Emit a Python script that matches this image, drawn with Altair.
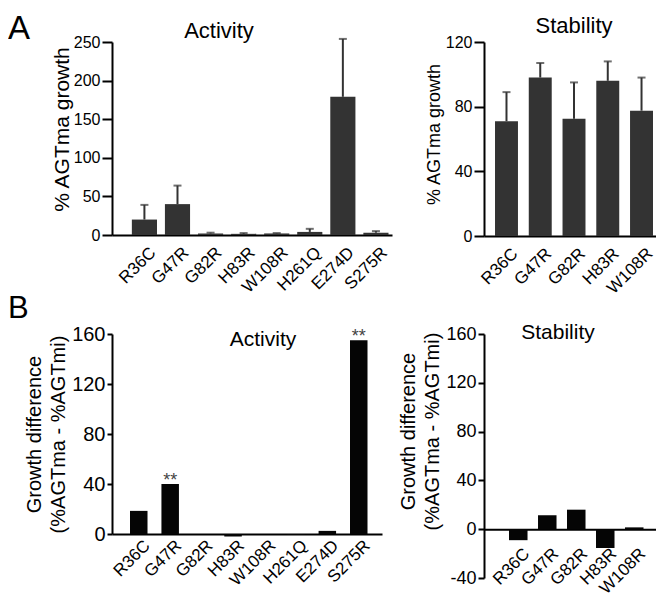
import altair as alt
import pandas as pd

FONT = "Liberation Sans"

# ---- data ----
a_act_mut = ["R36C", "G47R", "G82R", "H83R", "W108R", "H261Q", "E274D", "S275R"]
a_act_val = [20, 40, 2, 1.5, 2, 4, 179, 3]
a_act_err = [39, 64, 3, 2.5, 2.5, 8, 254, 5]

a_stab_mut = ["R36C", "G47R", "G82R", "H83R", "W108R"]
a_stab_val = [71, 98, 72.5, 96, 77.5]
a_stab_err = [89, 107, 95, 108, 98]

b_act_mut = ["R36C", "G47R", "G82R", "H83R", "W108R", "H261Q", "E274D", "S275R"]
b_act_val = [18.5, 40, 0, -2, 0, -0.5, 2.5, 155]
b_act_sig = ["", "**", "", "", "", "", "", "**"]

b_stab_mut = ["R36C", "G47R", "G82R", "H83R", "W108R"]
b_stab_val = [-9, 11.5, 16, -15.5, 1.5]

a_ticks_act = [0, 50, 100, 150, 200, 250]
a_ticks_stab = [0, 40, 80, 120]
b_ticks_act = [0, 40, 80, 120, 160]
b_ticks_stab = [-40, 0, 40, 80, 120, 160]

A_COLOR = "#333333"
B_COLOR = "#050505"


def text_layer(txt, x, y, size, align="center", baseline="alphabetic", color="black"):
    return alt.Chart(pd.DataFrame({"t": [txt]})).mark_text(
        font=FONT, fontSize=size, align=align, baseline=baseline, color=color
    ).encode(text="t:N", x=alt.value(x), y=alt.value(y))


def x_enc(order, pin, pout, align, label_pad, offset=0):
    return alt.X(
        "mut:N", sort=order, title=None,
        scale=alt.Scale(paddingInner=pin, paddingOuter=pout, align=align),
        axis=alt.Axis(labelAngle=-45, labelAlign="right", labelBaseline="top",
                      labelFontSize=17, ticks=False, labelPadding=label_pad,
                      labelOffset=3, domainWidth=2, offset=offset, labelOverlap=False),
    )


def y_enc(field, domain, values, label_size, tick_size, title, title_size, title_pad,
          title_y, expr=None):
    kw = dict(values=values, labelFontSize=label_size, tickSize=tick_size, tickWidth=2,
              domainWidth=2, labelPadding=2, title=title, titleFontSize=title_size,
              titleFontWeight="normal", titlePadding=title_pad, titleY=title_y,
              titleLineHeight=24, grid=False, labelOverlap=False)
    if expr:
        kw["labelExpr"] = expr
    return alt.Y(field, scale=alt.Scale(domain=domain, nice=False), axis=alt.Axis(**kw))


# ---- A: Activity ----
df_aa = pd.DataFrame({"mut": a_act_mut, "val": a_act_val, "err": a_act_err})
xa = x_enc(a_act_mut, 0.24, 0.353, 0.85, 9)
ya_args = ([0, 250], a_ticks_act, 16, 10, "% AGTma growth", 21, 1, 87)
base = alt.Chart(df_aa)
# transparent rule reserving a little head room above the panels
top_space = alt.Chart(pd.DataFrame({"t": ["A"]})).mark_rule(strokeOpacity=0).encode(
    x=alt.value(-104), x2=alt.value(-90), y=alt.value(-34))
a_act = alt.layer(
    base.mark_rule(color=A_COLOR, strokeWidth=2).encode(
        x=xa, y=y_enc("val:Q", *ya_args), y2="err:Q"),
    base.mark_tick(color=A_COLOR, thickness=2, size=8).encode(
        x=xa, y=y_enc("err:Q", *ya_args)),
    base.mark_bar(color=A_COLOR).encode(x=xa, y=y_enc("val:Q", *ya_args)),
    text_layer("Activity", 107, -4, 22),
    text_layer("A", -104, -3, 33, align="left"),
    top_space,
).properties(width=280, height=193)

# ---- A: Stability ----
df_as = pd.DataFrame({"mut": a_stab_mut, "val": a_stab_val, "err": a_stab_err})
xs = x_enc(a_stab_mut, 0.32, 0.2075, 0.786, 9)
ys_args = ([0, 120], a_ticks_stab, 16, 10, "% AGTma growth", 18, 2, 92)
base = alt.Chart(df_as)
a_stab = alt.layer(
    base.mark_rule(color=A_COLOR, strokeWidth=2).encode(
        x=xs, y=y_enc("val:Q", *ys_args), y2="err:Q"),
    base.mark_tick(color=A_COLOR, thickness=2, size=8).encode(
        x=xs, y=y_enc("err:Q", *ys_args)),
    base.mark_bar(color=A_COLOR).encode(x=xs, y=y_enc("val:Q", *ys_args)),
    text_layer("Stability", 90, -9, 22),
).properties(width=172, height=194)

# ---- B: Activity ----
df_ba = pd.DataFrame({"mut": b_act_mut, "val": b_act_val, "sig": b_act_sig})
xb = x_enc(b_act_mut, 0.443, 0.517, 0.554, 3)
yb_args = ([0, 160], b_ticks_act, 20, 5, ["Growth difference", "(%AGTma - %AGTmi)"], 20, 3, 100)
base = alt.Chart(df_ba)
b_act = alt.layer(
    base.mark_bar(color=B_COLOR).encode(x=xb, y=y_enc("val:Q", *yb_args)),
    base.mark_text(font=FONT, fontSize=18, baseline="alphabetic", dy=2, color="#444444").encode(
        x=xb, y=y_enc("val:Q", *yb_args), text="sig:N"),
    text_layer("Activity", 151, 12, 21),
    text_layer("B", -104, -16, 31, align="left"),
).properties(width=270, height=200)

# ---- B: Stability ----
df_bs = pd.DataFrame({"mut": b_stab_mut, "val": b_stab_val})
xbs = x_enc(b_stab_mut, 0.362, 0.647, 0.667, 16, offset=-48.8)
ybs_args = ([-40, 160], b_ticks_stab, 18, 6, ["Growth difference", "(%AGTma - %AGTmi)"], 20, 3, 97,
            "'' + datum.value")
base = alt.Chart(df_bs)
b_stab = alt.layer(
    base.mark_bar(color=B_COLOR).encode(x=xbs, y=y_enc("val:Q", *ybs_args)),
    text_layer("Stability", 74, 5, 21),
).properties(width=172, height=244)

chart = alt.concat(
    a_act, a_stab, b_act, b_stab, columns=2, spacing=alt.RowColnumber(row=98, column=92),
    bounds="flush", align="each"
).properties(padding=0).configure_view(stroke=None).configure_axis(
    labelFont=FONT, titleFont=FONT, labelColor="black", titleColor="black",
    domainColor="black", tickColor="black"
)

chart.save("out.html", embed_options={"renderer": "svg", "actions": False})
